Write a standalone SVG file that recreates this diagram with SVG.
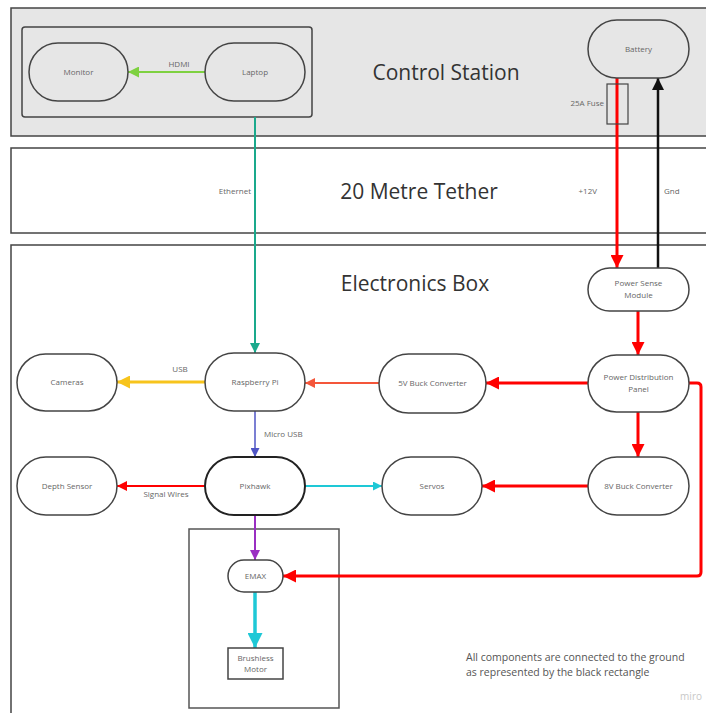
<svg xmlns="http://www.w3.org/2000/svg" width="706" height="713" viewBox="0 0 706 713">
<style>
.panel{stroke:#444;stroke-width:1.5}
.node{fill:#fff;stroke:#444;stroke-width:1.5}
.node.clear{fill:none}
.lbl{font-family:"Open Sans","Liberation Sans",sans-serif;font-size:8px;fill:#666;text-anchor:middle}
.elbl{font-family:"Open Sans","Liberation Sans",sans-serif;font-size:8px;fill:#666}
.title{font-family:"Open Sans","Liberation Sans",sans-serif;font-size:21px;fill:#333;text-anchor:middle}
.note{font-family:"Open Sans","Liberation Sans",sans-serif;font-size:10.5px;fill:#555}
.c{fill:none}
</style>
<defs>
<marker id="aRed" viewBox="0 0 10 10" refX="10" refY="5" markerUnits="userSpaceOnUse" markerWidth="13" markerHeight="13" orient="auto"><path d="M0,0 L10,5 L0,10 z" fill="#ff0000"/></marker>
<marker id="aRedS" viewBox="0 0 10 10" refX="10" refY="5" markerUnits="userSpaceOnUse" markerWidth="10" markerHeight="10" orient="auto"><path d="M0,0 L10,5 L0,10 z" fill="#ff0000"/></marker>
<marker id="aTeal" viewBox="0 0 10 10" refX="10" refY="5" markerUnits="userSpaceOnUse" markerWidth="10" markerHeight="10" orient="auto"><path d="M0,0 L10,5 L0,10 z" fill="#1aa98c"/></marker>
<marker id="aGreen" viewBox="0 0 10 10" refX="10" refY="5" markerUnits="userSpaceOnUse" markerWidth="11" markerHeight="11" orient="auto"><path d="M0,0 L10,5 L0,10 z" fill="#7ed140"/></marker>
<marker id="aYellow" viewBox="0 0 10 10" refX="10" refY="5" markerUnits="userSpaceOnUse" markerWidth="13" markerHeight="13" orient="auto"><path d="M0,0 L10,5 L0,10 z" fill="#f7c41c"/></marker>
<marker id="aCoral" viewBox="0 0 10 10" refX="10" refY="5" markerUnits="userSpaceOnUse" markerWidth="10" markerHeight="10" orient="auto"><path d="M0,0 L10,5 L0,10 z" fill="#f4563a"/></marker>
<marker id="aIndigo" viewBox="0 0 10 10" refX="10" refY="5" markerUnits="userSpaceOnUse" markerWidth="9" markerHeight="9" orient="auto"><path d="M0,0 L10,5 L0,10 z" fill="#4f55c4"/></marker>
<marker id="aCyan" viewBox="0 0 10 10" refX="10" refY="5" markerUnits="userSpaceOnUse" markerWidth="9" markerHeight="9" orient="auto"><path d="M0,0 L10,5 L0,10 z" fill="#1ec8d6"/></marker>
<marker id="aCyanL" viewBox="0 0 10 10" refX="10" refY="5" markerUnits="userSpaceOnUse" markerWidth="15" markerHeight="15" orient="auto"><path d="M0,0 L10,5 L0,10 z" fill="#1ec8d6"/></marker>
<marker id="aPurple" viewBox="0 0 10 10" refX="10" refY="5" markerUnits="userSpaceOnUse" markerWidth="10" markerHeight="10" orient="auto"><path d="M0,0 L10,5 L0,10 z" fill="#9a2fc2"/></marker>
<marker id="aBlack" viewBox="0 0 10 10" refX="10" refY="5" markerUnits="userSpaceOnUse" markerWidth="12" markerHeight="12" orient="auto"><path d="M0,0 L10,5 L0,10 z" fill="#111"/></marker>
</defs>
<rect width="706" height="713" fill="#fff"/>

<g id="control-station">
<rect class="panel" x="11" y="8" width="705" height="128" fill="#e6e6e6"/>
<text class="title" x="446" y="80">Control Station</text>
</g>
<g id="tether">
<rect class="panel" x="11" y="148" width="705" height="85" fill="#fff"/>
<text class="title" x="419" y="199">20 Metre Tether</text>
</g>
<g id="electronics-box">
<rect class="panel" x="11" y="245" width="705" height="480" fill="#fff"/>
<text class="title" x="415" y="291">Electronics Box</text>
</g>
<g id="station-group">
<rect x="22" y="27" width="290" height="90" rx="3" fill="none" stroke="#444" stroke-width="1.5"/>
</g>
<g id="motor-group">
<rect x="189" y="529" width="150" height="179" fill="none" stroke="#555" stroke-width="1.5"/>
</g>

<g id="connectors">
<path class="c" d="M205,72 L128,72" stroke="#7ed140" stroke-width="2" marker-end="url(#aGreen)"/>
<path class="c" d="M255,117 L255,353" stroke="#1aa98c" stroke-width="2" marker-end="url(#aTeal)"/>
<path class="c" d="M617,78 L617,268" stroke="#ff0000" stroke-width="3" marker-end="url(#aRed)"/>
<path class="c" d="M658,268 L658,78" stroke="#111" stroke-width="2.5" marker-end="url(#aBlack)"/>
<path class="c" d="M638,311 L638,355" stroke="#ff0000" stroke-width="3" marker-end="url(#aRed)"/>
<path class="c" d="M588,383 L486,383" stroke="#ff0000" stroke-width="3" marker-end="url(#aRed)"/>
<path class="c" d="M638,412 L638,457" stroke="#ff0000" stroke-width="3" marker-end="url(#aRed)"/>
<path class="c" d="M588,486 L482,486" stroke="#ff0000" stroke-width="3" marker-end="url(#aRed)"/>
<path class="c" d="M689,383 L697,383 Q701,383 701,387 L701,572 Q701,576 697,576 L283,576" stroke="#ff0000" stroke-width="3" marker-end="url(#aRed)"/>
<path class="c" d="M379,383 L305,383" stroke="#f4563a" stroke-width="2" marker-end="url(#aCoral)"/>
<path class="c" d="M205,382 L117,382" stroke="#f7c41c" stroke-width="3" marker-end="url(#aYellow)"/>
<path class="c" d="M255,411 L255,457" stroke="#4f55c4" stroke-width="1.5" marker-end="url(#aIndigo)"/>
<path class="c" d="M205,486 L117,486" stroke="#ff0000" stroke-width="2" marker-end="url(#aRedS)"/>
<path class="c" d="M305,486 L382,486" stroke="#1ec8d6" stroke-width="2" marker-end="url(#aCyan)"/>
<path class="c" d="M255,515 L255,560" stroke="#9a2fc2" stroke-width="2" marker-end="url(#aPurple)"/>
<path class="c" d="M255,592 L255,648" stroke="#1ec8d6" stroke-width="3.5" marker-end="url(#aCyanL)"/>
<text class="lbl" x="179" y="67">HDMI</text>
<text class="elbl" x="251" y="194" text-anchor="end">Ethernet</text>
<text class="elbl" x="597" y="194" text-anchor="end">+12V</text>
<text class="elbl" x="664" y="194">Gnd</text>
<text class="elbl" x="604" y="106" text-anchor="end">25A Fuse</text>
<text class="lbl" x="180" y="372">USB</text>
<text class="elbl" x="264" y="437">Micro USB</text>
<text class="lbl" x="166" y="497">Signal Wires</text>
</g>

<g id="fuse"><rect x="607" y="84" width="21" height="40" fill="none" stroke="#444" stroke-width="1.2"/></g>
<g id="monitor"><rect class="node clear" x="29" y="43" width="99" height="58" rx="29"/><text class="lbl" x="78.5" y="75">Monitor</text></g>
<g id="laptop"><rect class="node clear" x="205" y="43" width="100" height="58" rx="29"/><text class="lbl" x="255" y="75">Laptop</text></g>
<g id="battery"><rect class="node clear" x="588" y="20" width="101" height="58" rx="29"/><text class="lbl" x="638.5" y="52">Battery</text></g>
<g id="power-sense"><rect class="node" x="588" y="268" width="101" height="43" rx="21.5"/><text class="lbl" x="638.5" y="286">Power Sense</text><text class="lbl" x="638.5" y="298">Module</text></g>
<g id="pdp"><rect class="node" x="588" y="355" width="101" height="57" rx="28.5"/><text class="lbl" x="638.5" y="380">Power Distribution</text><text class="lbl" x="638.5" y="392">Panel</text></g>
<g id="buck5"><rect class="node" x="379" y="354" width="107" height="59" rx="29.5"/><text class="lbl" x="432.5" y="386">5V Buck Converter</text></g>
<g id="rpi"><rect class="node" x="205" y="353" width="100" height="58" rx="29"/><text class="lbl" x="255" y="385">Raspberry Pi</text></g>
<g id="cameras"><rect class="node" x="17" y="354" width="100" height="57" rx="28.5"/><text class="lbl" x="67" y="385">Cameras</text></g>
<g id="pixhawk"><rect class="node" x="205" y="457" width="100" height="58" rx="29" style="stroke:#222;stroke-width:2"/><text class="lbl" x="255" y="489">Pixhawk</text></g>
<g id="depth"><rect class="node" x="17" y="457" width="100" height="58" rx="29"/><text class="lbl" x="67" y="489">Depth Sensor</text></g>
<g id="servos"><rect class="node" x="382" y="457" width="100" height="58" rx="29"/><text class="lbl" x="432" y="489">Servos</text></g>
<g id="buck8"><rect class="node" x="588" y="457" width="101" height="58" rx="29"/><text class="lbl" x="638.5" y="489">8V Buck Converter</text></g>
<g id="emax"><rect class="node" x="228" y="560" width="55" height="32" rx="16"/><text class="lbl" x="255.5" y="579">EMAX</text></g>
<g id="motor"><rect class="node" x="228" y="648" width="55" height="31"/><text class="lbl" x="255.5" y="661">Brushless</text><text class="lbl" x="255.5" y="672">Motor</text></g>

<g id="note">
<text class="note" x="466" y="661">All components are connected to the ground</text>
<text class="note" x="466" y="676">as represented by the black rectangle</text>
<text x="702" y="700" text-anchor="end" font-family="'Open Sans','Liberation Sans',sans-serif" font-size="10px" fill="#c8c8c8">miro</text>
</g>
</svg>
